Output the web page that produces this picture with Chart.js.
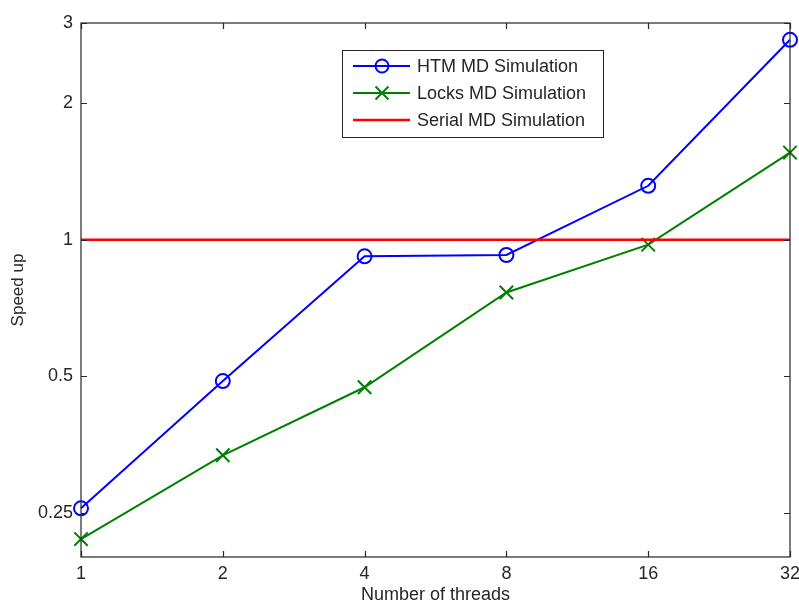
<!DOCTYPE html>
<html>
<head>
<meta charset="utf-8">
<title>Speed up vs number of threads</title>
<script src="https://cdn.jsdelivr.net/npm/chart.js@4.4.1/dist/chart.umd.min.js"></script>
<style>
    html, body { margin: 0; padding: 0; background: #fff; }
    #wrap { width: 799px; height: 606px; }
</style>
</head>
<body>
<div id="wrap"><canvas id="speedupChart" width="799" height="606"></canvas></div>
<script>
// Podaci procitani sa slike
const threads = [1, 2, 4, 8, 16, 32];
const htmSpeedup = [0.256, 0.488, 0.919, 0.925, 1.314, 2.755];
const locksSpeedup = [0.219, 0.335, 0.473, 0.765, 0.975, 1.555];
const serialSpeedup = [1, 1, 1, 1, 1, 1];
const yTickValues = [0.25, 0.5, 1, 2, 3];

const AXIS_COLOR = '#262626';
const FONT = '"Liberation Sans", Arial, sans-serif';

function toPoints(values) {
    return threads.map((t, i) => ({ x: t, y: values[i] }));
}

// Okvir i unutrasnji tickovi (MATLAB stil)
const frameTicksPlugin = {
    id: 'frameTicks',
    afterDatasetsDraw(chart) {
        const { ctx, chartArea: a, scales: { x, y } } = chart;
        const len = 6;
        ctx.save();
        ctx.strokeStyle = AXIS_COLOR;
        ctx.lineWidth = 1.2;
        ctx.strokeRect(a.left, a.top, a.right - a.left, a.bottom - a.top);
        ctx.beginPath();
        x.ticks.forEach(t => {
            const px = Math.round(x.getPixelForValue(t.value)) + 0.5;
            ctx.moveTo(px, a.bottom); ctx.lineTo(px, a.bottom - len);
            ctx.moveTo(px, a.top); ctx.lineTo(px, a.top + len);
        });
        y.ticks.forEach(t => {
            const py = Math.round(y.getPixelForValue(t.value)) + 0.5;
            ctx.moveTo(a.left, py); ctx.lineTo(a.left + len, py);
            ctx.moveTo(a.right, py); ctx.lineTo(a.right - len, py);
        });
        ctx.stroke();
        ctx.restore();
    }
};

// Legenda u gornjem delu grafika
const boxLegendPlugin = {
    id: 'boxLegend',
    afterDraw(chart) {
        const { ctx } = chart;
        const box = { x: 342.5, y: 50.5, w: 261, h: 87 };
        const rows = [66, 93, 120];
        ctx.save();
        ctx.fillStyle = '#fff';
        ctx.fillRect(box.x, box.y, box.w, box.h);
        ctx.strokeStyle = AXIS_COLOR;
        ctx.lineWidth = 1;
        ctx.strokeRect(box.x, box.y, box.w, box.h);
        chart.data.datasets.forEach((ds, i) => {
            const cy = rows[i];
            ctx.strokeStyle = ds.borderColor;
            ctx.lineWidth = ds.borderWidth;
            ctx.beginPath();
            ctx.moveTo(353, cy); ctx.lineTo(410, cy);
            ctx.stroke();
            if (ds.pointStyle === 'circle' && ds.pointRadius > 0) {
                ctx.beginPath();
                ctx.arc(382, cy, 6.5, 0, Math.PI * 2);
                ctx.stroke();
            } else if (ds.pointStyle === 'crossRot' && ds.pointRadius > 0) {
                const d = 6.5;
                ctx.beginPath();
                ctx.moveTo(382 - d, cy - d); ctx.lineTo(382 + d, cy + d);
                ctx.moveTo(382 - d, cy + d); ctx.lineTo(382 + d, cy - d);
                ctx.stroke();
            }
            ctx.fillStyle = AXIS_COLOR;
            ctx.font = '18px ' + FONT;
            ctx.textBaseline = 'middle';
            ctx.fillText(ds.label, 417, cy + 1);
        });
        ctx.restore();
    }
};

const ctx = document.getElementById('speedupChart');

new Chart(ctx, {
    type: 'line',
    data: {
        datasets: [
            {
                label: 'HTM MD Simulation',
                data: toPoints(htmSpeedup),
                borderColor: '#0000ff',
                backgroundColor: 'transparent',
                borderWidth: 2,
                pointStyle: 'circle',
                pointRadius: 7,
                pointBorderWidth: 2,
                pointBackgroundColor: 'transparent',
                tension: 0,
                clip: false
            },
            {
                label: 'Locks MD Simulation',
                data: toPoints(locksSpeedup),
                borderColor: '#008000',
                backgroundColor: 'transparent',
                borderWidth: 2,
                pointStyle: 'crossRot',
                pointRadius: 9.5,
                pointBorderWidth: 2,
                tension: 0,
                clip: false
            },
            {
                label: 'Serial MD Simulation',
                data: toPoints(serialSpeedup),
                borderColor: '#ff0000',
                backgroundColor: 'transparent',
                borderWidth: 2.5,
                pointRadius: 0,
                tension: 0,
                order: -1
            }
        ]
    },
    options: {
        responsive: false,
        animation: false,
        devicePixelRatio: 1,
        layout: { autoPadding: false, padding: { top: 23, right: 9, left: 0, bottom: 0 } },
        plugins: {
            legend: { display: false },
            tooltip: { enabled: false },
            title: { display: false }
        },
        scales: {
            x: {
                type: 'logarithmic',
                min: 1,
                max: 32,
                afterBuildTicks: s => { s.ticks = threads.map(v => ({ value: v })); },
                afterFit: s => {
                    s.height = 49;
                    s.paddingLeft = 0;
                    s.paddingRight = 0;
                },
                grid: { display: false, drawTicks: false },
                border: { display: false },
                ticks: {
                    color: AXIS_COLOR,
                    font: { family: FONT, size: 18 },
                    padding: 6,
                    maxRotation: 0,
                    autoSkip: false,
                    callback: v => String(v)
                },
                title: {
                    display: true,
                    text: 'Number of threads',
                    color: AXIS_COLOR,
                    font: { family: FONT, size: 18 },
                    padding: { top: 0, bottom: 0 }
                }
            },
            y: {
                type: 'logarithmic',
                min: 0.2,
                max: 3,
                afterBuildTicks: s => { s.ticks = yTickValues.map(v => ({ value: v })); },
                afterFit: s => {
                    s.width = 81;
                    s.paddingTop = 0;
                    s.paddingBottom = 0;
                },
                grid: { display: false, drawTicks: false },
                border: { display: false },
                ticks: {
                    color: AXIS_COLOR,
                    font: { family: FONT, size: 18 },
                    padding: 8,
                    autoSkip: false,
                    callback: v => String(v)
                },
                title: {
                    display: true,
                    text: 'Speed up',
                    color: AXIS_COLOR,
                    font: { family: FONT, size: 17 },
                    padding: { top: 8, bottom: 0 }
                }
            }
        }
    },
    plugins: [frameTicksPlugin, boxLegendPlugin]
});
</script>
</body>
</html>
